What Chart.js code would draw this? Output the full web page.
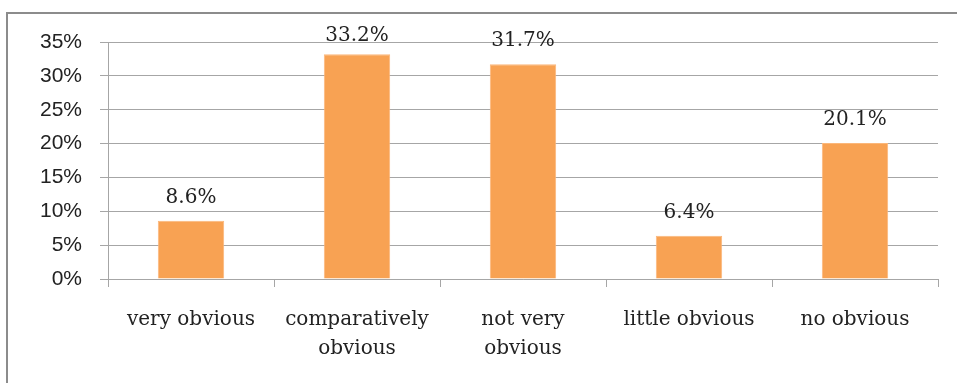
<!DOCTYPE html>
<html>
<head>
<meta charset="utf-8">
<script src="https://cdn.jsdelivr.net/npm/chart.js@4.4.0/dist/chart.umd.min.js"></script>
<style>
  body { margin: 0; overflow: hidden; background: #fff; }
  #frame { position: absolute; left: 6px; top: 12px; width: 1000px; height: 420px; border: 2px solid #8c8c8c; }
  #wrap { position: absolute; left: 0; top: 0; width: 957px; height: 383px; }
</style>
</head>
<body>
<div id="frame"></div>
<div id="wrap"><canvas id="myChart" width="957" height="383"></canvas></div>
<script>
const categories = ['very obvious', ['comparatively', 'obvious'], ['not very', 'obvious'], 'little obvious', 'no obvious'];
const percents = [8.6, 33.2, 31.7, 6.4, 20.1];
const yTicks = [0, 5, 10, 15, 20, 25, 30, 35];

const gridColor = '#a6a6a6';
const serif = "'DejaVu Serif', serif";

// value labels above each bar
const barLabels = {
  id: 'barLabels',
  afterDatasetsDraw(chart) {
    const ctx = chart.ctx;
    const meta = chart.getDatasetMeta(0);
    ctx.save();
    ctx.font = "20px " + serif;
    ctx.fillStyle = '#222';
    ctx.textAlign = 'center';
    ctx.textBaseline = 'alphabetic';
    meta.data.forEach((bar, i) => {
      let y = bar.y - 18;
      if (y > chart.chartArea.top - 1) {} else { y = chart.chartArea.top - 1; }
      ctx.fillText(percents[i].toFixed(1) + '%', bar.x, y);
    });
    ctx.restore();
  }
};

const ctx = document.getElementById('myChart');
const myChart = new Chart(ctx, {
  type: 'bar',
  data: {
    labels: categories,
    datasets: [{
      data: percents,
      backgroundColor: '#f8a253',
      borderColor: '#fbb77a',
      borderWidth: 1,
      barPercentage: 1,
      categoryPercentage: 0.4
    }]
  },
  options: {
    responsive: false,
    animation: false,
    layout: { padding: { left: 0, right: 19, top: 42, bottom: 0 } },
    plugins: { legend: { display: false }, tooltip: { enabled: false } },
    scales: {
      x: {
        grid: { drawOnChartArea: false, drawTicks: true, tickLength: 8, color: gridColor },
        border: { display: true, color: gridColor, width: 1 },
        ticks: { color: '#222', font: { family: serif, size: 20, lineHeight: 1.45 }, padding: 18, maxRotation: 0, autoSkip: false },
        afterFit: (scale) => { scale.height = 104; }
      },
      y: {
        min: 0,
        max: 35,
        afterBuildTicks: (scale) => { scale.ticks = yTicks.map(v => ({ value: v })); },
        grid: { color: gridColor, tickLength: 8 },
        border: { display: true, color: gridColor, width: 1 },
        ticks: {
          color: '#222',
          font: { family: "'Liberation Sans', sans-serif", size: 21 },
          padding: 18,
          callback: (v) => v + '%'
        },
        afterFit: (scale) => { scale.width = 108; }
      }
    }
  },
  plugins: [barLabels]
});
</script>
</body>
</html>
